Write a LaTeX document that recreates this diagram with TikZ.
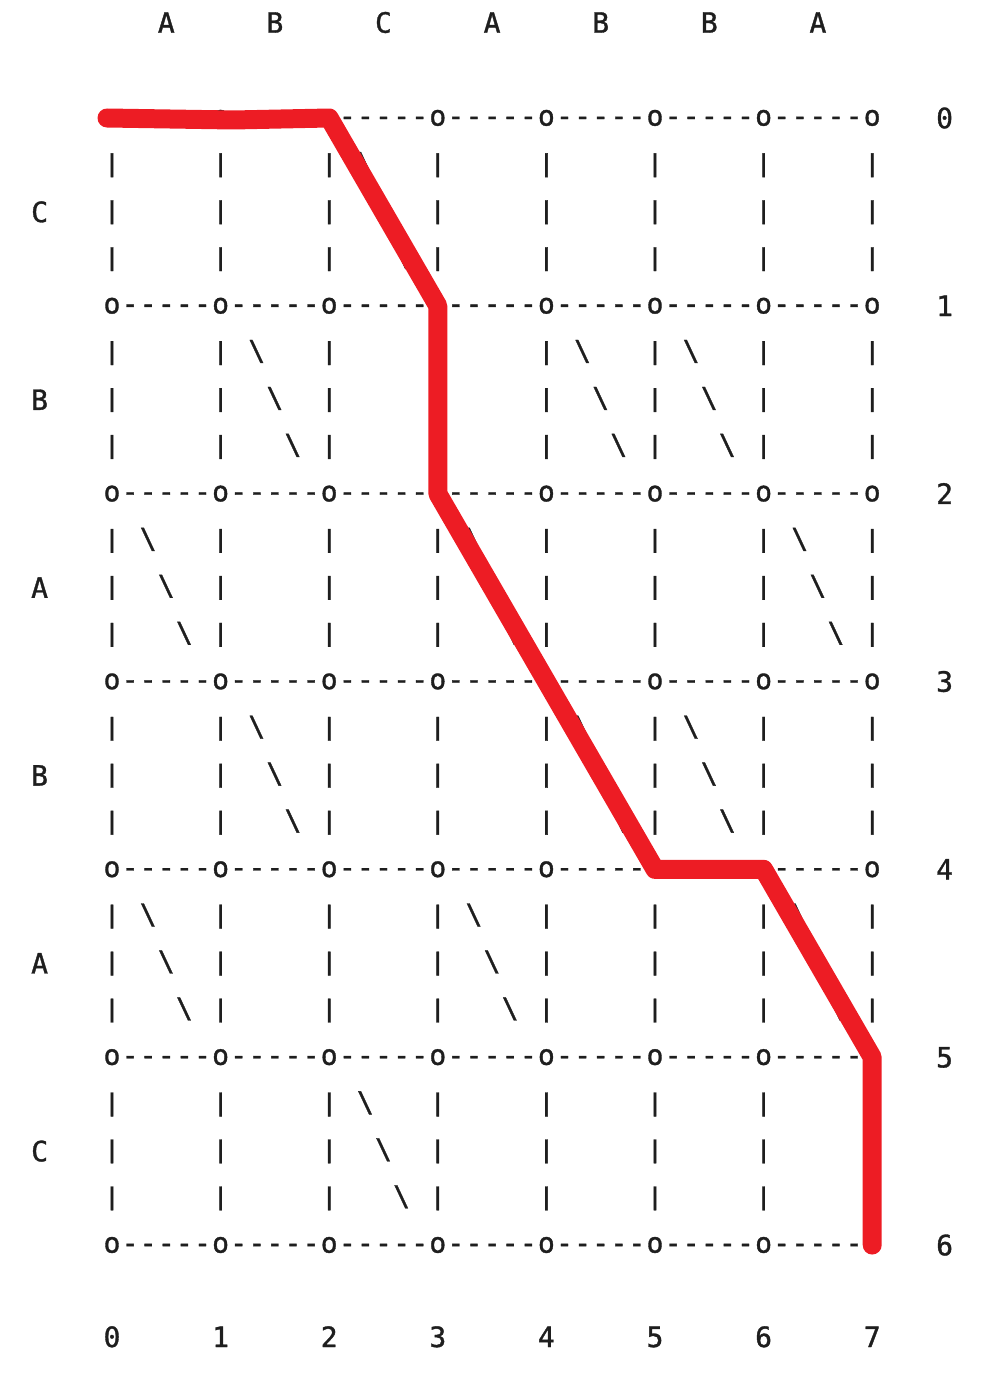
\documentclass[tikz,border=0pt]{standalone}
\usepackage{fontspec}
\setmonofont[FakeBold=1.2]{DejaVu Sans Mono}
\definecolor{pathred}{RGB}{237,28,36}
\definecolor{ink}{RGB}{30,30,30}
\begin{document}
\begin{tikzpicture}[x=1pt,y=-1pt,
  ch/.style={anchor=base,inner sep=0pt,outer sep=0pt,text=ink,font=\ttfamily\fontsize{28}{34}\selectfont},
  redpath/.style={draw=pathred,line width=19pt,line cap=round,line join=round}]
\useasboundingbox (0,0) rectangle (1003,1383);
% grid rows: nodes and dashes
\foreach \r in {0,...,6} {
  \foreach \j in {0,...,7} {
    \coordinate (g-\r-\j) at ({112+108.6*\j},{118+187.84*\r});
    \node[ch] (o-\r-\j) at ({112+108.6*\j},{125.6+187.84*\r}) {o};
  }
  \foreach \j in {0,...,6} {
    \foreach \m in {1,...,5} {
      \node[ch] (d-\r-\j-\m) at ({112+18.1*(6*\j+\m)},{125.6+187.84*\r}) {-};
    }
  }
}
% vertical bars
\foreach \r in {0,...,5} {
  \foreach \l in {1,2,3} {
    \foreach \j in {0,...,7} {
      \node[ch] (v-\r-\l-\j) at ({112+108.6*\j},{124.6+187.84*\r+46.96*\l}) {\scalebox{1}[0.85]{|}};
    }
  }
}
% diagonals (matches)
\foreach \r/\j in {0/2, 1/1, 1/4, 1/5, 2/0, 2/3, 2/6, 3/1, 3/4, 3/5, 4/0, 4/3, 4/6, 5/2} {
  \foreach \l in {1,2,3} {
    \node[ch] (s-\r-\j-\l) at ({112+18.1*(6*\j+1+\l)},{125.6+187.84*\r+46.96*\l}) {\textbackslash};
  }
}
% top letters
\foreach \c/\t in {1/A, 2/B, 3/C, 4/A, 5/B, 6/B, 7/A} {
  \node[ch] (top-\c) at ({112+18.1*(6*\c-3)},32.7) {\t};
}
% left letters
\foreach \r/\t in {0/C, 1/B, 2/A, 3/B, 4/A, 5/C} {
  \node[ch] (left-\r) at ({112-18.1*4},{118+187.84*\r+93.9+10.2}) {\t};
}
% right numbers
\foreach \r in {0,...,6} {
  \node[ch] (right-\r) at ({112+18.1*46},{118+187.84*\r+10.2}) {\r};
}
% bottom numbers
\foreach \j in {0,...,7} {
  \node[ch] (bot-\j) at ({112+108.6*\j},1347) {\j};
}
% red path
\coordinate (rstart) at (107,118);
\coordinate (rkink) at (233,120);
\draw[redpath] (rstart) -- (rkink) -- (g-0-2) -- (g-1-3) -- (g-2-3) -- (g-4-5) -- (g-4-6) -- (g-5-7) -- (g-6-7);
\end{tikzpicture}
\end{document}
